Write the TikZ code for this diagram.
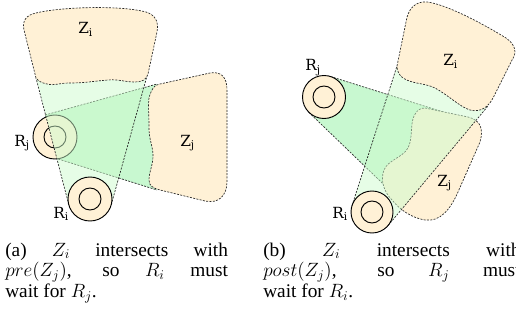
\documentclass[tikz,border=0pt]{standalone}
\usepackage{fontspec}
\setmainfont{Liberation Serif}
\newfontfamily\labelfont{DejaVu Serif}
\usetikzlibrary{positioning}

\definecolor{zonebg}{RGB}{255,241,214}
\definecolor{farzone}{RGB}{200,248,208}
\definecolor{nearzone}{RGB}{205,251,205}

\begin{document}
\begin{tikzpicture}[x=0.75pt, y=-0.75pt,
    zone/.style={draw=black!85, fill=zonebg, line width=0.5pt,
      dash pattern=on 1.5pt off 1pt},
    funline/.style={draw=black!85, line width=0.5pt, dash pattern=on 1.5pt off 1pt},
    farwedge/.style={fill=farzone},
    nearwedge/.style={fill=nearzone, fill opacity=0.5},
    ring/.style={draw=black, fill=zonebg, line width=0.7pt},
    hole/.style={draw=black, line width=0.7pt},
    lbl/.style={anchor=base west, inner sep=0pt,
      font=\labelfont\fontsize{11.5}{13}\selectfont},
    subcap/.style={anchor=base west, inner sep=0pt, align=justify,
      font=\fontsize{14.5}{15.5}\selectfont}
  ]
  \useasboundingbox (0,0) rectangle (516,324);
  \clip (0,0) rectangle (516,324);

  % (a) Zi meets pre(Zj)
  \coordinate (rjA) at (55,137);
  \coordinate (riA) at (90,199);
  \fill[farwedge] (45,115) -- (157,84) -- (157,190) -- (55,158) -- cycle;
  \draw[funline] (45,115) -- (157,84) (55,158) -- (157,190);
  \draw[ring] (rjA) circle[radius=22];
  \draw[hole] (rjA) circle[radius=11];
  \fill[nearwedge] (68.8,204.8) -- (36,78) -- (147,76) -- (111.2,204.9) -- cycle;
  \draw[funline] (68.8,204.8) -- (36,78) (111.2,204.9) -- (147,76);
  \draw[ring] (riA) circle[radius=22];
  \draw[hole] (riA) circle[radius=11];
  \draw[zone] (152,90) .. controls (154,86) and (156,85) .. (160,84)
    -- (210,73) .. controls (222,71) and (227,78) .. (227,90)
    -- (227,182) .. controls (227,196) and (218,204) .. (205,201)
    -- (160,190) .. controls (153,188) and (149,186) .. (149,180)
    .. controls (149,172) and (153,165) .. (153,156)
    .. controls (153,146) and (149,140) .. (149,128)
    .. controls (149,115) and (148,105) .. (149,98)
    .. controls (150,94) and (151,92) .. (152,90) -- cycle;
  \draw[zone] (36,78) -- (24,30) .. controls (22,21) and (26,15) .. (36,13)
    .. controls (60,7) and (120,5) .. (146,12)
    .. controls (155,15) and (159,21) .. (157,32)
    -- (148,74) .. controls (146,80) and (142,82) .. (135,82)
    .. controls (125,82) and (118,79) .. (108,80)
    .. controls (95,81) and (85,83) .. (70,83)
    .. controls (58,83) and (55,86) .. (47,84)
    .. controls (42,83) and (38,81) .. (36,78) -- cycle;
  \node[lbl] (ziA) at (78,34) {Z\textsubscript{i}};
  \node[lbl] (zjA) at (180,146) {Z\textsubscript{j}};
  \node[lbl] (rjLA) at (14,146) {R\textsubscript{j}};
  \node[lbl] (riLA) at (53,218) {R\textsubscript{i}};

  % (b) Zi meets post(Zj)
  \coordinate (rjB) at (324,97);
  \coordinate (riB) at (372,212);
  \fill[farwedge] (330.5,76.5) -- (475,122) -- (405,205) -- (309,112.5) -- cycle;
  \draw[funline] (330.5,76.5) -- (475,122) (309,112.5) -- (405,205);
  \draw[ring] (rjB) circle[radius=21.5];
  \draw[hole] (rjB) circle[radius=11];
  \draw[zone] (425,108) -- (468,117) .. controls (480,120) and (484,128) .. (480,142)
    -- (458,192) .. controls (450,210) and (440,222) .. (425,220)
    .. controls (412,218) and (400,210) .. (392,200)
    .. controls (384,192) and (380,180) .. (384,170)
    .. controls (388,160) and (402,158) .. (408,148)
    .. controls (413,138) and (410,125) .. (414,116)
    .. controls (417,110) and (420,108) .. (425,108) -- cycle;
  \fill[nearwedge] (352,205.6) -- (397,66) -- (488,106) -- (388.1,225.5) -- cycle;
  \draw[funline] (352,205.6) -- (397,66) (388.1,225.5) -- (488,106);
  \draw[ring] (riB) circle[radius=21];
  \draw[hole] (riB) circle[radius=11];
  \draw[zone] (397,66) -- (406,22) .. controls (408,8) and (416,1) .. (427,2)
    .. controls (445,4) and (480,22) .. (506,38)
    .. controls (516,45) and (517,53) .. (512,60)
    -- (493,98) .. controls (489,106) and (481,113) .. (470,110)
    .. controls (460,107) and (448,95) .. (435,88)
    .. controls (425,83) and (412,84) .. (403,78)
    .. controls (399,75) and (397,71) .. (397,66) -- cycle;
  \node[lbl] (ziB) at (443,66) {Z\textsubscript{i}};
  \node[lbl] (zjB) at (437,186) {Z\textsubscript{j}};
  \node[lbl] (rjLB) at (305,71) {R\textsubscript{j}};
  \node[lbl] (riLB) at (332,218) {R\textsubscript{i}};

  % captions
  \node[subcap, text width=167pt] (capA) at (5,256)
    {(a) $Z_i$ intersects with\linebreak $pre(Z_j)$, so $R_i$ must\linebreak wait for $R_j$.};
  \node[subcap, text width=193pt] (capB) at (263,256)
    {(b) $Z_i$ intersects with\linebreak $post(Z_j)$, so $R_j$ must\linebreak wait for $R_i$.};
\end{tikzpicture}
\end{document}
